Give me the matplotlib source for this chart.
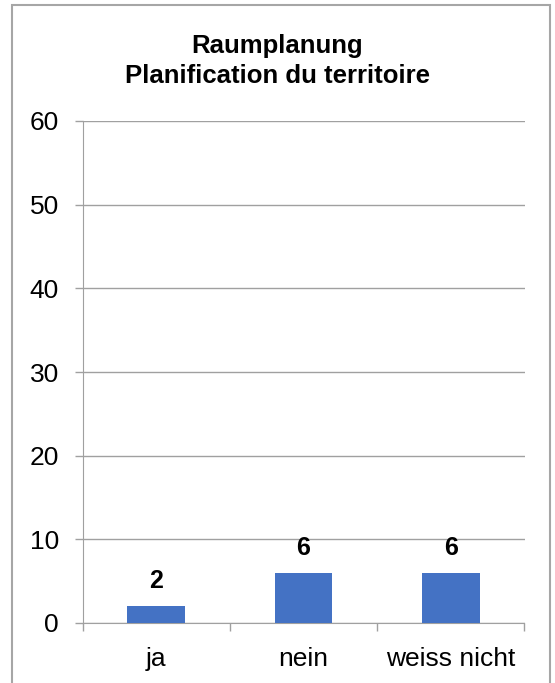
import matplotlib
matplotlib.use("Agg")
import matplotlib.pyplot as plt
from matplotlib.patches import Rectangle

categories = ["ja", "nein", "weiss nicht"]
values = [2, 6, 6]
yticks = [0, 10, 20, 30, 40, 50, 60]
title_lines = ["Raumplanung", "Planification du territoire"]

plt.rcParams['font.family'] = ['Liberation Sans', 'DejaVu Sans']

W, H = 555, 683
fig = plt.figure(figsize=(W / 100, H / 100), dpi=100)
fig.patches.append(Rectangle((12 / W, -0.01), (550 - 12) / W, 1.01 - 5 / H, transform=fig.transFigure,
                             fill=False, edgecolor='#a6a6a6', linewidth=1.5))

ax_l, ax_r, ax_t, ax_b = 82.5, 524.5, 121, 623
ax = fig.add_axes([ax_l / W, 1 - ax_b / H, (ax_r - ax_l) / W, (ax_b - ax_t) / H])
x = list(range(len(categories)))
ax.bar(x, values, width=0.39, color='#4472C4', zorder=3)
for xi, v in zip(x, values):
    ax.annotate(str(v), (xi, v), xytext=(0, 13), textcoords='offset points',
                ha='center', va='baseline', fontsize=18, fontweight='bold')

ax.set_xlim(-0.5, len(categories) - 0.5)
ax.set_ylim(0, 60)
ax.set_yticks(yticks)
ax.set_yticklabels([str(t) for t in yticks], fontsize=19)
ax.yaxis.grid(True, color='#a0a0a0', linewidth=1.0, zorder=0)
ax.tick_params(axis='y', length=6, color='#a0a0a0', width=1.0, pad=11)

ax.set_xticks(x)
ax.set_xticklabels(categories, fontsize=19)
ax.tick_params(axis='x', length=0, pad=17)
ax.set_xticks([i - 0.5 for i in range(len(categories) + 1)], minor=True)
ax.tick_params(axis='x', which='minor', length=6, color='#a0a0a0', width=1.0)

for s in ['top', 'right']:
    ax.spines[s].set_visible(False)
ax.spines['left'].set_color('#a0a0a0')
ax.spines['bottom'].set_color('#a0a0a0')

fig.text(0.5, 1 - 53 / H, title_lines[0], ha='center', va='baseline', fontsize=18.5, fontweight='bold')
fig.text(0.5, 1 - 83 / H, title_lines[1], ha='center', va='baseline', fontsize=18.5, fontweight='bold')

fig.savefig("out.png", dpi=100)
